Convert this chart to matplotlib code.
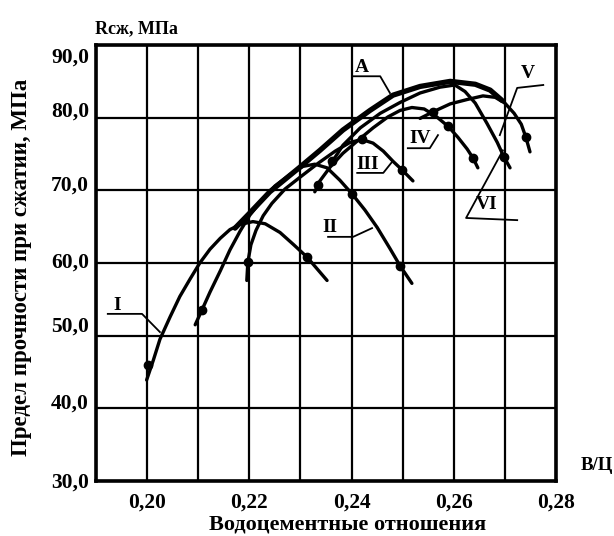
import matplotlib.pyplot as plt
from matplotlib.transforms import ScaledTranslation

plt.rcParams['font.family'] = ['Liberation Serif', 'DejaVu Serif']
plt.rcParams['font.weight'] = 'bold'

# оси
x_grid = [0.19, 0.20, 0.21, 0.22, 0.23, 0.24, 0.25, 0.26, 0.27, 0.28]
x_labels = ['', '0,20', '', '0,22', '', '0,24', '', '0,26', '', '0,28']
y_grid = [30, 40, 50, 60, 70, 80, 90]
y_labels = ['30,0', '40,0', '50,0', '60,0', '70,0', '80,0', '90,0']

# кривые I - VI (В/Ц, Rсж)
i_x = [0.1999, 0.2012, 0.2025, 0.2045, 0.2064, 0.2084, 0.2103, 0.2123, 0.2143, 0.2162, 0.2182, 0.2207, 0.2231, 0.2260, 0.2287, 0.2313, 0.2352]
i_y = [43.9, 46.6, 49.5, 52.6, 55.4, 57.8, 60.0, 61.9, 63.4, 64.6, 65.3, 65.7, 65.4, 64.2, 62.5, 60.8, 57.6]
i_mx = [0.2002, 0.2313]
i_my = [46.0, 60.8]

ii_x = [0.2094, 0.2107, 0.2123, 0.2143, 0.2162, 0.2182, 0.2201, 0.2225, 0.2250, 0.2280, 0.2305, 0.2328, 0.2352, 0.2377, 0.2401, 0.2426, 0.2450, 0.2475, 0.2495, 0.2518]
ii_y = [51.5, 53.5, 56.0, 58.9, 61.8, 64.4, 66.6, 68.7, 70.6, 72.2, 73.3, 73.6, 73.1, 71.4, 69.5, 67.3, 64.9, 62.0, 59.6, 57.2]
ii_mx = [0.2107, 0.2401, 0.2495]
ii_my = [53.5, 69.5, 59.6]

iii_x = [0.2195, 0.2197, 0.2203, 0.2213, 0.2227, 0.2244, 0.2270, 0.2299, 0.2334, 0.2368, 0.2397, 0.2420, 0.2442, 0.2462, 0.2481, 0.2499, 0.2520]
iii_y = [57.6, 60.1, 62.5, 64.5, 66.5, 68.2, 70.2, 71.8, 73.7, 75.4, 76.6, 77.0, 76.5, 75.4, 74.0, 72.8, 71.3]
iii_mx = [0.2197, 0.2420, 0.2499]
iii_my = [60.1, 77.0, 72.8]

iv_x = [0.2328, 0.2338, 0.2358, 0.2383, 0.2413, 0.2442, 0.2471, 0.2495, 0.2518, 0.2542, 0.2565, 0.2589, 0.2608, 0.2626, 0.2638, 0.2647]
iv_y = [69.8, 71.3, 73.2, 75.1, 76.9, 78.6, 80.1, 81.0, 81.4, 81.2, 80.2, 78.8, 77.3, 75.7, 74.4, 73.1]
iv_mx = [0.2334, 0.2589, 0.2638]
iv_my = [70.7, 78.8, 74.4]

v_x = [0.2534, 0.2559, 0.2593, 0.2626, 0.2657, 0.2681, 0.2700, 0.2718, 0.2732, 0.2741, 0.2749]
v_y = [79.9, 80.8, 81.9, 82.5, 83.0, 82.8, 82.0, 80.6, 79.1, 77.3, 75.3]
v_mx = [0.2559, 0.2741]
v_my = [80.8, 77.3]

vi_x = [0.2358, 0.2383, 0.2417, 0.2456, 0.2495, 0.2534, 0.2573, 0.2602, 0.2622, 0.2642, 0.2665, 0.2685, 0.2698, 0.2710]
vi_y = [73.5, 76.2, 78.6, 80.6, 82.1, 83.4, 84.2, 84.5, 83.6, 82.0, 79.2, 76.6, 74.6, 73.1]
vi_mx = [0.2362, 0.2698]
vi_my = [74.0, 74.6]

# огибающая A
a_x = [0.2172, 0.2201, 0.2240, 0.2299, 0.2338, 0.2383, 0.2436, 0.2481, 0.2534, 0.2593, 0.2642, 0.2671, 0.2694]
a_y = [64.8, 66.9, 69.8, 73.2, 75.5, 78.3, 81.0, 83.1, 84.3, 85.0, 84.6, 83.8, 82.4]

# подписи кривых: текст, позиция текста, линия-выноска
curve_labels = [
    ('I', (0.1941, 54.1), [(0.1923, 53.0), (0.1990, 53.0), (0.2025, 50.5)]),
    ('II', (0.2358, 64.9), [(0.2354, 63.6), (0.2403, 63.6), (0.2440, 64.8)]),
    ('III', (0.2432, 73.5), [(0.2411, 72.4), (0.2462, 72.4), (0.2479, 73.9)]),
    ('IV', (0.2534, 77.2), [(0.2510, 75.8), (0.2553, 75.8), (0.2569, 77.6)]),
    ('A', (0.2420, 86.9), [(0.2403, 85.7), (0.2456, 85.7), (0.2475, 83.4)]),
    ('V', (0.2745, 86.1), [(0.2775, 84.5), (0.2724, 84.1), (0.2690, 77.6)]),
    ('VI', (0.2665, 68.0), [(0.2724, 65.9), (0.2624, 66.2), (0.2696, 75.5)]),
]

# сдвиг подписей оси Y относительно линий сетки, px (вниз +)
y_label_shift = [-1, -7, -12, -3, -7, -9, 10]

fig = plt.figure(figsize=(6.14, 5.36), dpi=100)
ax = fig.add_axes([0.1564, 0.1026, 0.7492, 0.8134])

curves = [(i_x, i_y, i_mx, i_my), (ii_x, ii_y, ii_mx, ii_my), (iii_x, iii_y, iii_mx, iii_my),
          (iv_x, iv_y, iv_mx, iv_my), (v_x, v_y, v_mx, v_my), (vi_x, vi_y, vi_mx, vi_my)]
for cx, cy, mx, my in curves:
    ax.plot(cx, cy, color='black', lw=2.4, solid_capstyle='round', solid_joinstyle='round', zorder=3)
    ax.plot(mx, my, 'o', color='black', ms=6, zorder=4)

ax.plot(a_x, a_y, color='black', lw=3.8, solid_capstyle='round', solid_joinstyle='round', zorder=3)

for text, pos, path in curve_labels:
    ax.text(pos[0], pos[1], text, fontsize=14, fontweight='bold', ha='center', va='center', zorder=5)
    ax.plot([p[0] for p in path], [p[1] for p in path], color='black', lw=1.3, zorder=5, clip_on=False)

ax.set_xlim(0.19, 0.28)
ax.set_ylim(30, 90)
ax.set_xticks(x_grid)
ax.set_xticklabels(x_labels, fontsize=15.5, fontweight='bold')
ax.set_yticks(y_grid)
ax.set_yticklabels(y_labels, fontsize=15.5, fontweight='bold')
ax.tick_params(length=0, pad=8)
ax.tick_params(axis='y', pad=5)
for lab, shift in zip(ax.get_yticklabels(), y_label_shift):
    lab.set_transform(lab.get_transform() + ScaledTranslation(0, -shift / 100, fig.dpi_scale_trans))

ax.grid(True, color='black', lw=1.6)
for sp in ax.spines.values():
    sp.set_linewidth(2.6)

ax.set_xlabel('Водоцементные отношения', fontsize=16, fontweight='bold')
ax.xaxis.set_label_coords(0.546, -0.077)
ax.set_ylabel('Предел прочности при сжатии, МПа', fontsize=16.5, fontweight='bold')
ax.yaxis.set_label_coords(-0.140, 0.491)
fig.text(0.155, 0.947, 'Rсж, МПа', fontsize=13, fontweight='bold', ha='left', va='center')
fig.text(0.972, 0.132, 'В/Ц', fontsize=13.5, fontweight='bold', ha='center', va='center')

plt.savefig('out.png', dpi=100)
